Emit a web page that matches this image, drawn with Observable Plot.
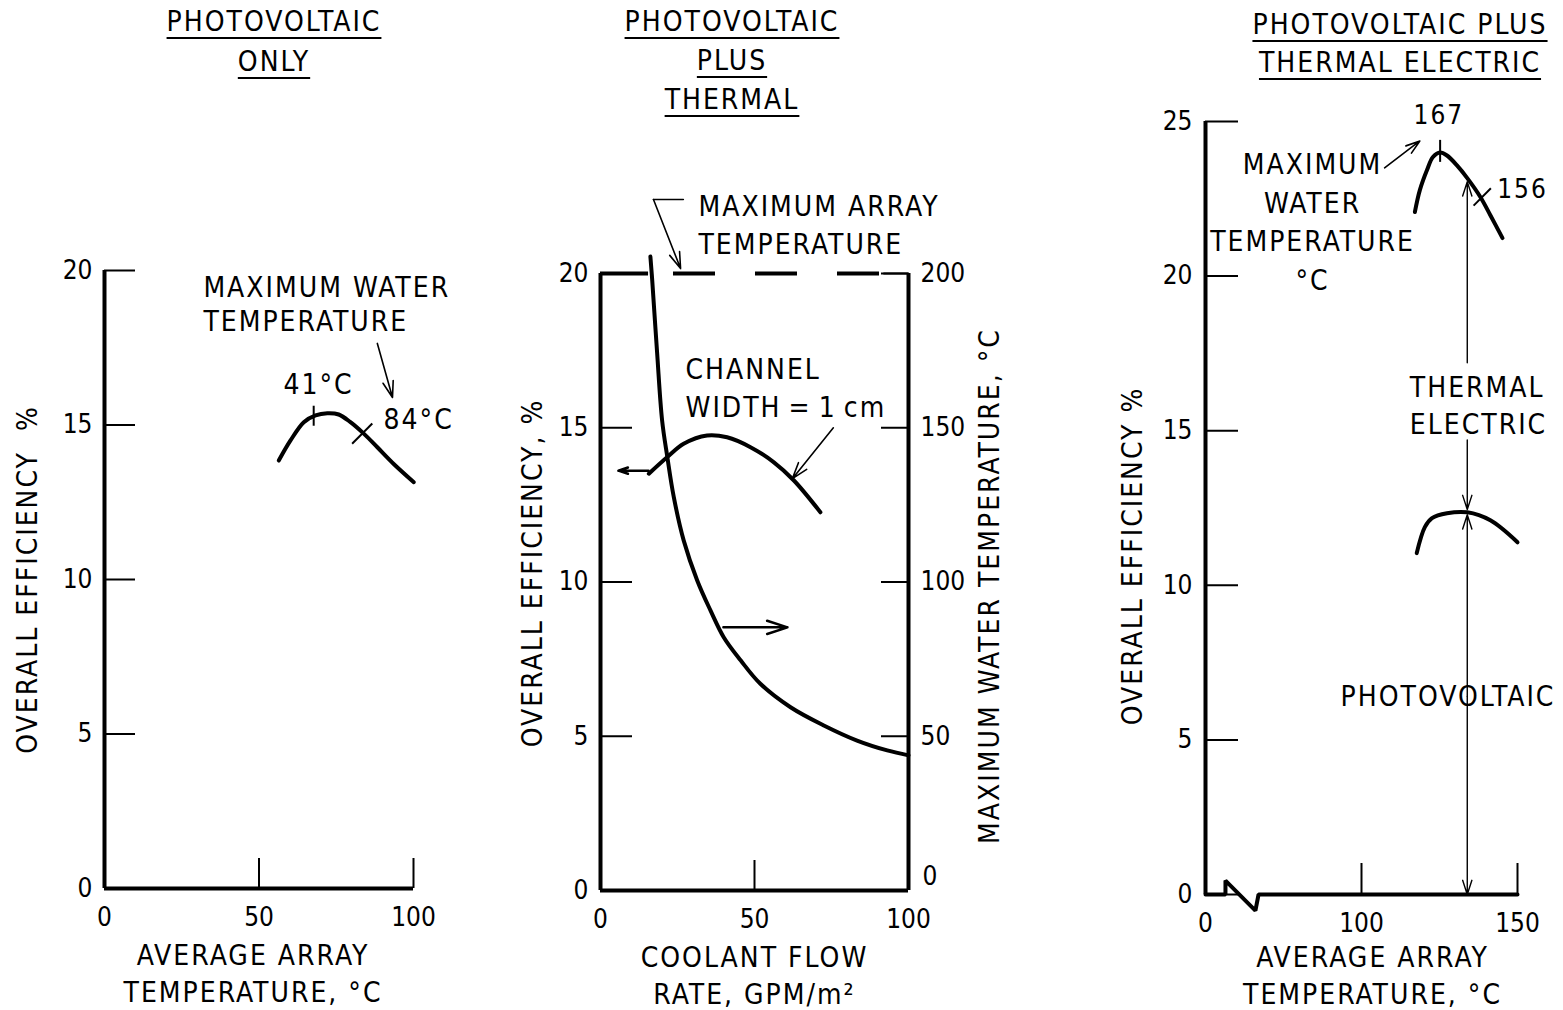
<!DOCTYPE html>
<html><head><meta charset="utf-8">
<script src="https://cdn.jsdelivr.net/npm/d3@7"></script>
<script src="https://cdn.jsdelivr.net/npm/@observablehq/plot@0.6"></script>
<style>
body{margin:0;background:#fff;}
#root{position:relative;width:1563px;height:1010px;background:#fff;overflow:hidden;font-family:'DejaVu Sans Condensed','Liberation Sans Narrow',sans-serif;}
.panel{position:absolute;top:0;}
.title{position:absolute;text-align:center;font-size:28px;letter-spacing:2px;color:#000;}
.title span{text-decoration:underline;text-decoration-thickness:2px;text-underline-offset:6px;}
g[aria-label$="tick label"]{letter-spacing:0px;}
</style></head><body><div id="root"></div>
<script>
// ---------- DATA ----------
// Panel 1: photovoltaic only
const pv1Temp = [56.4, 60.2, 64.5, 68.3, 72.1, 75.8, 79.6, 83.9, 88.3, 93.6, 100.1];
const pv1Eff  = [13.85, 14.5, 15.09, 15.31, 15.38, 15.34, 15.09, 14.72, 14.28, 13.74, 13.15];
const pv1MarkTemp = [67.7, 83.4];
const pv1MarkEff  = [15.3, 14.72];
const pv1MarkLabels = ["41°C", "84°C"];

// Panel 2: photovoltaic plus thermal
const flowEff = [15.7, 21.7, 27.0, 34.6, 41.1, 48.7, 56.3, 62.8, 71.4];
const effVsFlow = [13.51, 14.05, 14.48, 14.75, 14.69, 14.37, 13.88, 13.29, 12.26];
const flowTemp = [16.2, 16.8, 18.4, 20.0, 21.7, 23.8, 27.0, 31.4, 35.7, 40.0, 45.5, 51.9, 61.7, 72.5, 83.3, 93.1, 100];
const waterTemp = [205.5, 197.7, 174, 152.4, 140.5, 127.5, 113.5, 100.5, 90.8, 82.1, 74.6, 67.0, 59.4, 53.5, 48.6, 45.4, 43.8];
const maxArrayTemp = 200;            // °C, dashed line
const maxArrayFlow = [23.7, 92];      // extent of the dashed line
const topFrameSolid = [0, 15.6];
const topFrameThin = [92, 100];

// Panel 3: photovoltaic plus thermal electric (broken axis: origin drawn at 50 scale units)
const pteTemp = [117.1, 118.7, 121, 122.9, 125.2, 127.4, 130.6, 133.9, 138.1, 141.3, 145.2];
const pteEff  = [22.07, 22.78, 23.43, 23.85, 24.0, 23.9, 23.58, 23.17, 22.56, 21.97, 21.23];
const pvTemp  = [117.7, 120.3, 122.6, 127.4, 133.9, 141.3, 150];
const pvEff   = [11.04, 11.88, 12.17, 12.33, 12.36, 12.1, 11.39];
const pteMarkTemp = [125.2, 138.7];
const pteMarkEff  = [24.05, 22.56];
const pteMarkLabels = ["167", "156"];
const splitTemp = 133.9;
const axisOrigin3 = 50;
const axisBreakT = [50, 56.4, 56.4, 66.0, 67.0, 150];
const axisBreakE = [0, 0, 0.45, -0.52, 0, 0];

const effTicks = [0, 5, 10, 15, 20];
const effTicks3 = [0, 5, 10, 15, 20, 25];
const tempTicks1 = [0, 50, 100];
const flowTicks = [0, 50, 100];
const tempTicks3 = [50, 100, 150];
const tempTickLabels3 = ["0", "100", "150"];

// ---------- HELPERS ----------
const FONT = "'DejaVu Sans Condensed','Liberation Sans Narrow',sans-serif";
const zip = (xs, ys) => xs.map((x, i) => ({x, y: ys[i]}));
const vTick = {draw(ctx, size){const r = Math.sqrt(size/Math.PI); ctx.moveTo(0,-r); ctx.lineTo(0,r);}};
const slash = {draw(ctx, size){const r = Math.sqrt(size/Math.PI)*0.72; ctx.moveTo(-r,r); ctx.lineTo(r,-r);}};
const style = {fontFamily: FONT, fontSize: "28px", letterSpacing: "2px", background: "none", overflow: "visible", color: "#000"};
const arrowOpts = {x1:"x1", y1:"y1", x2:"x2", y2:"y2", stroke:"black", strokeWidth:1.6, headLength:16, headAngle:36};
const TF = 26; // tick label font size
const yLab = {textAnchor:"middle", lineAnchor:"middle", rotate:-90};
const xLab = {frameAnchor:"bottom", textAnchor:"middle", lineAnchor:"middle", lineHeight:1.34};

const root = document.getElementById("root");
function place(svg, left, width){
  const d = document.createElement("div");
  d.className = "panel"; d.style.left = left + "px"; d.style.width = width + "px";
  d.appendChild(svg); root.appendChild(d);
}
function title(lines, cx, top, lh){
  const d = document.createElement("div");
  d.className = "title"; d.style.left = (cx - 200) + "px"; d.style.width = "400px";
  d.style.top = top + "px"; d.style.lineHeight = lh + "px";
  d.innerHTML = lines.map(l => `<div><span>${l}</span></div>`).join("");
  root.appendChild(d);
}

// ---------- PANEL 1 ----------
const p1 = Plot.plot({
  width: 470, height: 1010,
  marginLeft: 104, marginRight: 57, marginTop: 270, marginBottom: 122,
  style,
  x: {domain: [0, 100]}, y: {domain: [0, 20]},
  marks: [
    Plot.axisY({ticks: effTicks, tickSize: -31, tickPadding: 43, strokeWidth: 2, fontSize: TF, label: null}),
    Plot.axisX({ticks: tempTicks1, tickSize: -30, tickPadding: 49, strokeWidth: 2, fontSize: TF, label: null}),
    Plot.ruleX([0], {strokeWidth: 4}),
    Plot.ruleY([0], {strokeWidth: 4}),
    Plot.line(zip(pv1Temp, pv1Eff), {x:"x", y:"y", curve:"catmull-rom", strokeWidth:4}),
    Plot.dot(zip(pv1MarkTemp, pv1MarkEff).slice(0,1), {x:"x", y:"y", symbol: vTick, r: 10, stroke:"black", strokeWidth:2}),
    Plot.dot(zip(pv1MarkTemp, pv1MarkEff).slice(1), {x:"x", y:"y", symbol: slash, r: 14, stroke:"black", strokeWidth:2}),
    Plot.text([pv1MarkLabels[0]], {x: 57.9, y: 16.28, textAnchor:"start"}),
    Plot.text([pv1MarkLabels[1]], {x: 90.3, y: 15.15, textAnchor:"start"}),
    Plot.text(["MAXIMUM WATER\nTEMPERATURE"], {x: 32, y: 18.93, textAnchor:"start", lineHeight: 1.21}),
    Plot.arrow([{x1: 88.3, y1: 17.64, x2: 93.2, y2: 15.89}], arrowOpts),
    Plot.text(["OVERALL EFFICIENCY  %"], {...yLab, frameAnchor:"left", dx:-76, dy:0}),
    Plot.text(["AVERAGE ARRAY\nTEMPERATURE, °C"], {...xLab, dx:-6, dy:83})
  ]
});
place(p1, 0, 470);

// ---------- PANEL 2 ----------
const p2 = Plot.plot({
  width: 560, height: 1010,
  marginLeft: 140, marginRight: 112, marginTop: 273, marginBottom: 120,
  style,
  x: {domain: [0, 100]}, y: {domain: [0, 20]},
  marks: [
    Plot.axisY({ticks: effTicks.slice(0,4), tickSize: -32, tickPadding: 44, strokeWidth: 2, fontSize: TF, label: null}),
    Plot.axisY({ticks: [20], tickSize: 0, tickPadding: 12, fontSize: TF, label: null}),
    Plot.axisY({ticks: effTicks.slice(1), anchor:"right", tickFormat: d => d * 10, tickSize: -28, tickPadding: 40, strokeWidth: 2, fontSize: TF, label: null}),
    Plot.axisY({ticks: [0], anchor:"right", tickFormat: d => d * 10, tickSize: 0, tickPadding: 14, dy: -14, fontSize: TF, label: null}),
    Plot.axisX({ticks: flowTicks, tickSize: -30, tickPadding: 49, strokeWidth: 2, fontSize: TF, label: null}),
    Plot.ruleX([0], {strokeWidth: 4}),
    Plot.ruleX([100], {strokeWidth: 4}),
    Plot.ruleY([0], {strokeWidth: 4}),
    Plot.ruleY([20], {x1: topFrameSolid[0], x2: topFrameSolid[1], strokeWidth: 4}),
    Plot.ruleY([20], {x1: topFrameThin[0], x2: topFrameThin[1], strokeWidth: 2}),
    Plot.ruleY([maxArrayTemp / 10], {x1: maxArrayFlow[0], x2: maxArrayFlow[1], strokeWidth: 4, strokeDasharray: "42,40"}),
    Plot.line(zip(flowTemp, waterTemp), {x:"x", y: d => d.y / 10, curve:"catmull-rom", strokeWidth:4}),
    Plot.line(zip(flowEff, effVsFlow), {x:"x", y:"y", curve:"catmull-rom", strokeWidth:4}),
    Plot.line([{x: 26.9, y: 22.4}, {x: 17.2, y: 22.4}], {x:"x", y:"y", strokeWidth:1.6}),
    Plot.arrow([{x1: 17.2, y1: 22.4, x2: 26, y2: 20.16}], arrowOpts),
    Plot.text(["MAXIMUM ARRAY\nTEMPERATURE"], {x: 31.8, y: 21.65, textAnchor:"start", lineHeight: 1.36}),
    Plot.text(["CHANNEL\nWIDTH\u2009=\u20091\u2009cm"], {x: 27.6, y: 16.37, textAnchor:"start", lineHeight: 1.36}),
    Plot.arrow([{x1: 75.6, y1: 15.0, x2: 62.3, y2: 13.35}], arrowOpts),
    Plot.arrow([{x1: 15.6, y1: 13.61, x2: 5.8, y2: 13.61}], {...arrowOpts, strokeWidth: 2.5, headLength: 14}),
    Plot.arrow([{x1: 39.9, y1: 8.53, x2: 60.7, y2: 8.53}], {...arrowOpts, strokeWidth: 2.5, headLength: 14}),
    Plot.text(["OVERALL EFFICIENCY, %"], {...yLab, frameAnchor:"left", dx:-67, dy:-9}),
    Plot.text(["MAXIMUM WATER TEMPERATURE, °C"], {...yLab, frameAnchor:"right", dx:82, dy:4}),
    Plot.text(["COOLANT FLOW\nRATE, GPM/m²"], {...xLab, dx:0, dy:83})
  ]
});
place(p2, 460, 560);

// ---------- PANEL 3 ----------
const p3 = Plot.plot({
  width: 483, height: 1010,
  marginLeft: 125, marginRight: 46, marginTop: 121, marginBottom: 116,
  style,
  x: {domain: [axisOrigin3, 150]},
  y: {domain: [0, 25]},
  marks: [
    Plot.axisY({ticks: effTicks3, tickSize: -33, tickPadding: 46, strokeWidth: 2, fontSize: TF, label: null}),
    Plot.axisX({ticks: tempTicks3, tickFormat: (d, i) => tempTickLabels3[i], tickSize: -31, tickPadding: 50, strokeWidth: 2, fontSize: TF, label: null}),
    Plot.ruleX([axisOrigin3], {strokeWidth: 4}),
    Plot.line(zip(axisBreakT, axisBreakE), {x:"x", y:"y", strokeWidth:4, strokeLinejoin:"miter"}),
    Plot.line(zip(pteTemp, pteEff), {x:"x", y:"y", curve:"catmull-rom", strokeWidth:4}),
    Plot.line(zip(pvTemp, pvEff), {x:"x", y:"y", curve:"catmull-rom", strokeWidth:4}),
    Plot.dot(zip(pteMarkTemp, pteMarkEff).slice(0,1), {x:"x", y:"y", symbol: vTick, r: 11, stroke:"black", strokeWidth:2}),
    Plot.dot(zip(pteMarkTemp, pteMarkEff).slice(1), {x:"x", y:"y", symbol: slash, r: 12, stroke:"black", strokeWidth:2}),
    Plot.text([pteMarkLabels[0]], {x: 124.8, y: 25.18, fontSize: TF}),
    Plot.text([pteMarkLabels[1]], {x: 143.5, y: 22.8, textAnchor:"start", fontSize: TF}),
    Plot.text(["MAXIMUM\nWATER\nTEMPERATURE\n°C"], {x: 84.3, y: 21.83, lineHeight: 1.39}),
    Plot.arrow([{x1: 107.4, y1: 23.5, x2: 118.7, y2: 24.37}], arrowOpts),
    Plot.arrow([{x1: splitTemp, y1: 17.2, x2: splitTemp, y2: 23.05}], {...arrowOpts, strokeWidth: 1.4}),
    Plot.arrow([{x1: splitTemp, y1: 14.7, x2: splitTemp, y2: 12.45}], {...arrowOpts, strokeWidth: 1.4}),
    Plot.arrow([{x1: splitTemp, y1: 6.4, x2: splitTemp, y2: 12.28}], {...arrowOpts, strokeWidth: 1.4}),
    Plot.arrow([{x1: splitTemp, y1: 6.4, x2: splitTemp, y2: 0}], {...arrowOpts, strokeWidth: 1.4}),
    Plot.text(["THERMAL\nELECTRIC"], {x: 115.5, y: 15.88, textAnchor:"start", lineHeight: 1.32}),
    Plot.text(["PHOTOVOLTAIC"], {x: 93.3, y: 6.4, textAnchor:"start"}),
    Plot.text(["OVERALL EFFICIENCY %"], {...yLab, frameAnchor:"left", dx:-72, dy:48}),
    Plot.text(["AVERAGE ARRAY\nTEMPERATURE, °C"], {...xLab, dx:11, dy:79, lineHeight:1.32})
  ]
});
place(p3, 1080, 483);

// ---------- TITLES ----------
title(["PHOTOVOLTAIC", "ONLY"], 274, 2, 40);
title(["PHOTOVOLTAIC", "PLUS", "THERMAL"], 732, 2, 39);
title(["PHOTOVOLTAIC PLUS", "THERMAL ELECTRIC"], 1400, 6, 38);
</script>
</body></html>
